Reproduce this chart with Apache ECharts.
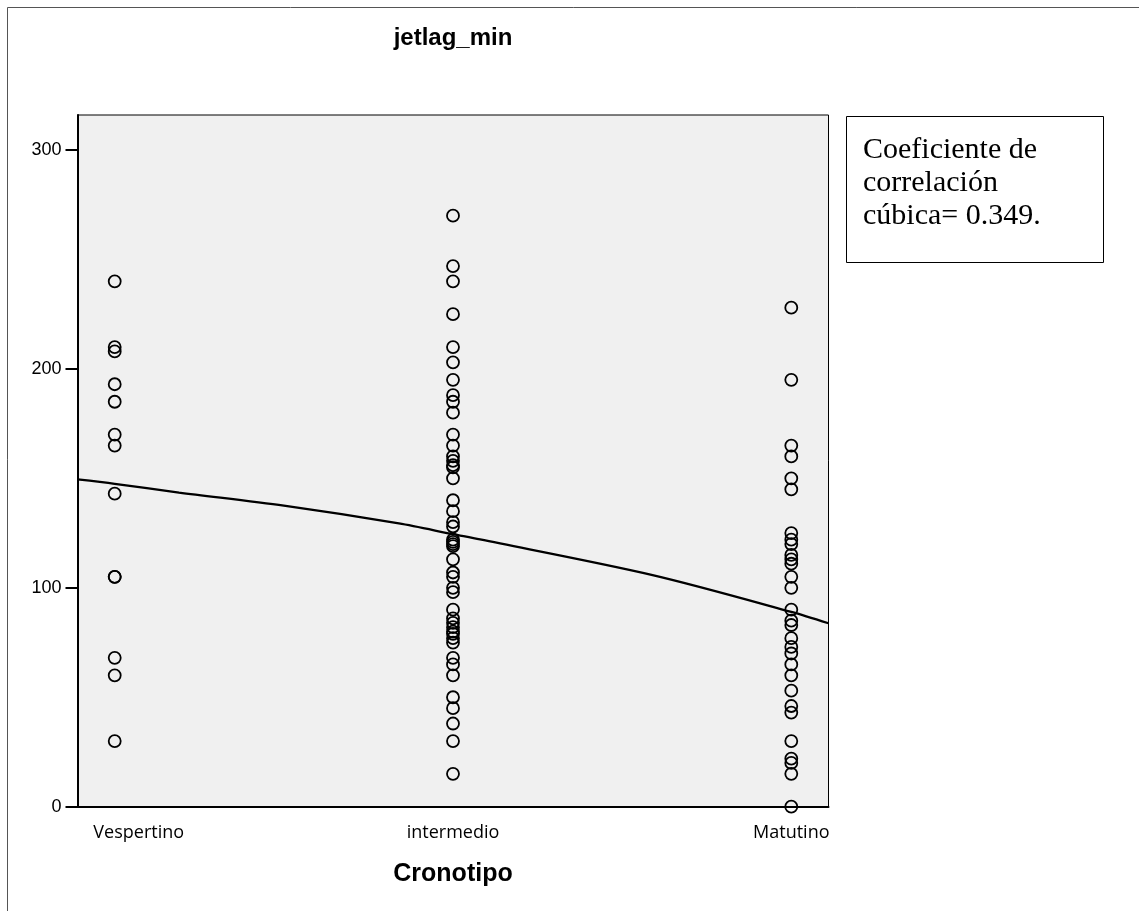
<!DOCTYPE html>
<html>
<head>
<meta charset="utf-8">
<script src="https://cdn.jsdelivr.net/npm/echarts@6/dist/echarts.min.js"></script>
<style>
html,body{margin:0;padding:0;background:#fff;}
#chart{width:1139px;height:911px;}
</style>
</head>
<body>
<div id="chart"></div>
<script>
// ---- data ----
const categories = ['Vespertino', 'intermedio', 'Matutino'];
const vespertino = [240, 210, 208, 193, 185, 170, 165, 143, 105, 105, 68, 60, 30];
const intermedio = [270, 247, 240, 225, 210, 203, 195, 188, 185, 180, 170, 165, 160, 158, 156, 155, 150,
  140, 135, 130, 128, 122, 121, 120, 119, 113, 107, 105, 100, 98, 90, 86, 84, 82, 80, 79, 77, 75,
  68, 65, 60, 50, 45, 38, 30, 15];
const matutino = [228, 195, 165, 160, 150, 145, 125, 122, 120, 115, 113, 111, 105, 100, 90, 85, 83,
  77, 73, 70, 65, 60, 53, 46, 43, 30, 22, 20, 15, 0];
// fitted (cubic) curve
const fitX = [0.89, 1, 1.19, 1.5, 1.84, 2, 2.08, 2.59, 3, 3.11];
const fitY = [149.5, 147.5, 143.5, 137.5, 129.4, 124.5, 122.1, 105.8, 89, 83.8];
const yTicks = [0, 100, 200, 300];
const xTicks = [1, 2, 3];
const titleText = 'jetlag_min';
const xName = 'Cronotipo';
const noteLines = ['Coeficiente de', 'correlación', 'cúbica= 0.349.'];

// ---- build ----
const groups = [vespertino, intermedio, matutino];
const scatterData = [];
groups.forEach((arr, i) => arr.forEach(v => scatterData.push([xTicks[i], v])));
const fitData = fitX.map((x, i) => [x, fitY[i]]);

const chart = echarts.init(document.getElementById('chart'), null, {renderer: 'canvas'});
const xLabelStyle = {fontFamily: 'Open Sans', fontSize: 18, color: '#000'};
const noteFont = '30px "Liberation Serif"';

chart.setOption({
  backgroundColor: '#fff',
  animation: false,
  grid: {
    left: 77.5, right: 310.5, top: 115, bottom: 104.3,
    show: true, backgroundColor: '#f0f0f0', borderColor: '#000', borderWidth: 1
  },
  xAxis: {
    type: 'value', min: 0.89, max: 3.11,
    axisLine: {show: true, onZero: false, lineStyle: {color: '#000', width: 2}},
    axisTick: {show: false},
    splitLine: {show: false},
    axisLabel: {
      customValues: xTicks,
      margin: 17,
      fontFamily: 'Open Sans', fontSize: 18, color: '#000',
      formatter: function (v) {
        const idx = xTicks.indexOf(v);
        const name = categories[idx];
        return idx === 0 ? '{first|' + name + '}' : name;
      },
      rich: {
        first: Object.assign({padding: [0, 0, 0, 48]}, xLabelStyle)
      }
    },
    name: xName,
    nameLocation: 'middle',
    nameGap: 55,
    nameTextStyle: {fontFamily: 'Liberation Sans', fontWeight: 'bold', fontSize: 25, color: '#000'}
  },
  yAxis: {
    type: 'value', min: 0, max: 316,
    axisLine: {show: true, onZero: false, lineStyle: {color: '#000', width: 2}},
    axisTick: {show: true, customValues: yTicks, length: 12, lineStyle: {color: '#000', width: 2}},
    axisLabel: {customValues: yTicks, margin: 16, fontFamily: 'Liberation Sans', fontSize: 18, color: '#000'},
    splitLine: {show: false}
  },
  series: [
    {
      type: 'scatter',
      data: scatterData,
      symbol: 'circle',
      symbolSize: 12,
      itemStyle: {color: 'transparent', borderColor: '#000', borderWidth: 1.8, opacity: 1},
      z: 2
    },
    {
      type: 'line',
      data: fitData,
      showSymbol: false,
      smooth: 0.3,
      lineStyle: {color: '#000', width: 2.3},
      z: 3
    }
  ],
  graphic: [
    {type: 'line', shape: {x1: 7.5, y1: 7.5, x2: 1139, y2: 7.5}, style: {stroke: '#555', lineWidth: 1}, silent: true},
    {type: 'line', shape: {x1: 7.5, y1: 7.5, x2: 7.5, y2: 911}, style: {stroke: '#555', lineWidth: 1}, silent: true},
    {type: 'text', x: 453, y: 26, style: {text: titleText, align: 'center', verticalAlign: 'top',
      font: 'bold 24px "Liberation Sans"', fill: '#000'}, silent: true},
    {type: 'rect', shape: {x: 846.5, y: 116.5, width: 257, height: 146}, style: {fill: '#fff', stroke: '#000', lineWidth: 1}, silent: true},
    {type: 'text', x: 863, y: 150, style: {text: noteLines[0], align: 'left', verticalAlign: 'middle',
      font: noteFont, fill: '#000'}, silent: true},
    {type: 'text', x: 863, y: 183, style: {text: noteLines[1], align: 'left', verticalAlign: 'middle',
      font: noteFont, fill: '#000'}, silent: true},
    {type: 'text', x: 863, y: 216, style: {text: noteLines[2], align: 'left', verticalAlign: 'middle',
      font: noteFont, fill: '#000'}, silent: true}
  ]
});
</script>
</body>
</html>
